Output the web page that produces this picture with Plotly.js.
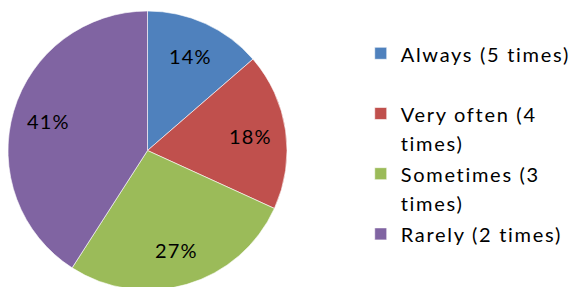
<!DOCTYPE html>
<html>
<head>
<meta charset="utf-8">
<script src="https://cdn.plot.ly/plotly-3.0.1.min.js"></script>
<style>
html, body { margin: 0; padding: 0; overflow: hidden; background: #fff; }
#chart { width: 576px; height: 301px; }
</style>
</head>
<body>
<div id="chart"></div>
<script>
var categories = ["Always (5 times)", "Very often (4 times)", "Sometimes (3 times)", "Rarely (2 times)"];
var legendLines = [["Always (5 times)", " "], ["Very often (4", "times)"], ["Sometimes (3", "times)"], ["Rarely (2 times)", " "]];
var counts = [3, 4, 6, 9];
var colors = ["#4F81BD", "#C0504D", "#9BBB59", "#8064A2"];

var W = 576, H = 301;
var M = { l: 8, r: 0, t: 11, b: 11 };
var domX = [0, 0.493];
var legendStyle = "font-size:20px;letter-spacing:1.7px";
var labelStyle = "letter-spacing:1.2px";
var labelFrac = 0.745;

var legendNames = legendLines.map(function (lines) {
  return lines.slice(0, 1).concat(lines.slice(1).filter(function (l) { return l !== " "; }))
    .map(function (p) { return '<span style="' + legendStyle + '">' + p + '</span>'; })
    .join("<br>") + (lines[1] === " " ? "<br> " : "");
});

var trace = {
  type: "pie",
  labels: legendNames,
  values: counts,
  sort: false,
  direction: "clockwise",
  rotation: 0,
  marker: { colors: colors, line: { color: "#FFFFFF", width: 0.6 } },
  textinfo: "none",
  hoverinfo: "label+percent",
  domain: { x: domX, y: [0, 1] }
};

// percentage labels placed at each slice's mid-angle, derived from the values
var total = counts.reduce(function (a, b) { return a + b; }, 0);
var plotW = W - M.l - M.r, plotH = H - M.t - M.b;
var R = Math.min((domX[1] - domX[0]) * plotW, plotH) / 2;
var cxPx = (domX[0] + domX[1]) / 2 * plotW, cyPx = plotH / 2;
var cum = 0;
var annotations = counts.map(function (v) {
  var mid = (cum + v / 2) / total * 2 * Math.PI;
  cum += v;
  var px = cxPx + R * labelFrac * Math.sin(mid);
  var py = cyPx - R * labelFrac * Math.cos(mid);
  return {
    xref: "paper", yref: "paper",
    x: px / plotW, y: 1 - py / plotH,
    xanchor: "center", yanchor: "middle",
    showarrow: false,
    text: '<span style="' + labelStyle + '">' + Math.round(v / total * 100) + "%</span>",
    font: { family: "Lato, sans-serif", size: 20, color: "#000000" }
  };
});

var layout = {
  width: W,
  height: H,
  margin: M,
  paper_bgcolor: "#FFFFFF",
  showlegend: true,
  annotations: annotations,
  legend: {
    x: 0.6232,
    xanchor: "left",
    y: 0.923,
    yanchor: "top",
    valign: "top",
    font: { family: "Lato, sans-serif", size: 22, color: "#000000" },
    bgcolor: "rgba(0,0,0,0)"
  }
};

Plotly.newPlot("chart", [trace], layout, { displayModeBar: false, staticPlot: true });
</script>
</body>
</html>
